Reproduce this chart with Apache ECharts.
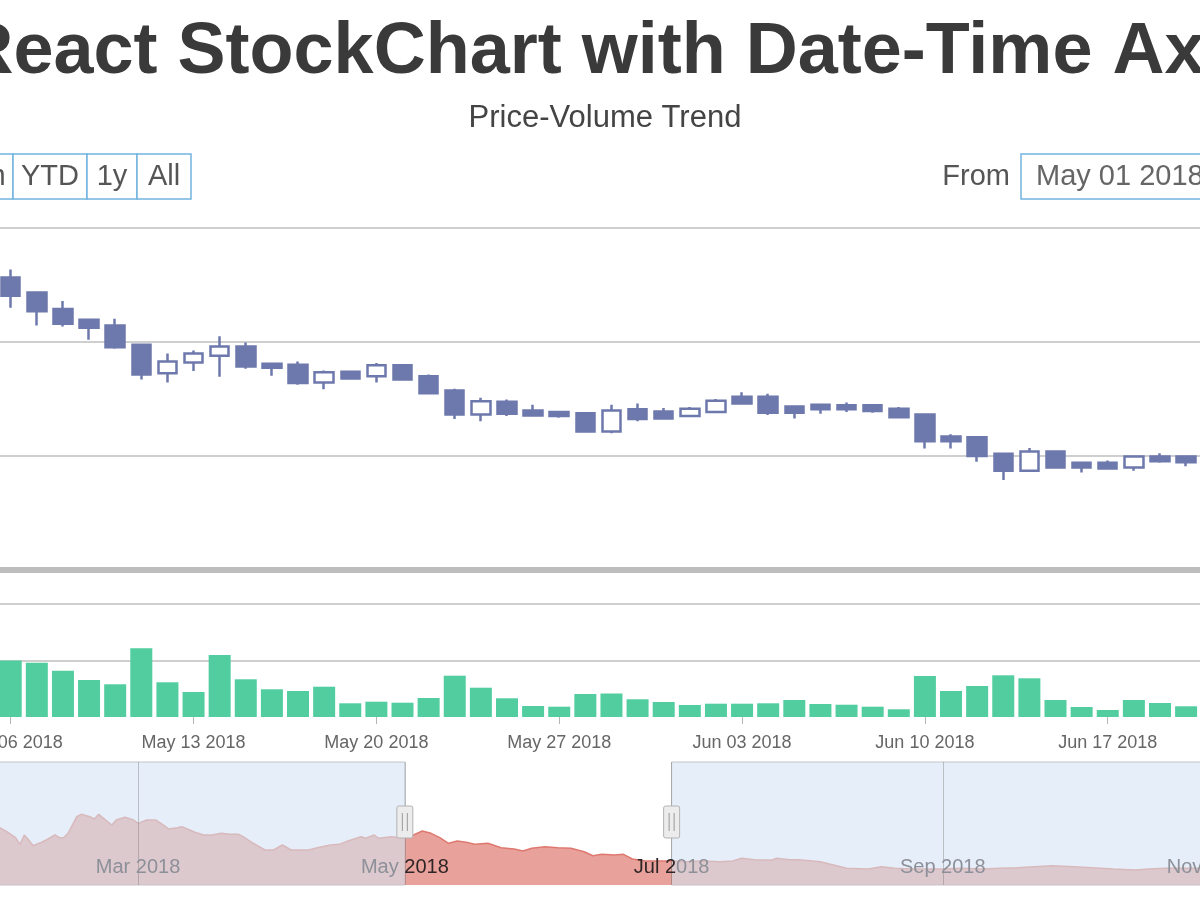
<!DOCTYPE html>
<html>
<head>
<meta charset="utf-8">
<title>React StockChart with Date-Time Axis</title>
<script src="https://cdn.jsdelivr.net/npm/echarts@6/dist/echarts.min.js"></script>
<style>
html, body { margin: 0; padding: 0; background: #fff; }
#main { width: 1200px; height: 900px; }
</style>
</head>
<body>
<div id="main"></div>
<script>
//daily candles shown in the main panel
var dates = ['2018-05-06', '2018-05-07', '2018-05-08', '2018-05-09', '2018-05-10', '2018-05-11', '2018-05-12',
    '2018-05-13', '2018-05-14', '2018-05-15', '2018-05-16', '2018-05-17', '2018-05-18', '2018-05-19',
    '2018-05-20', '2018-05-21', '2018-05-22', '2018-05-23', '2018-05-24', '2018-05-25', '2018-05-26',
    '2018-05-27', '2018-05-28', '2018-05-29', '2018-05-30', '2018-05-31', '2018-06-01', '2018-06-02',
    '2018-06-03', '2018-06-04', '2018-06-05', '2018-06-06', '2018-06-07', '2018-06-08', '2018-06-09',
    '2018-06-10', '2018-06-11', '2018-06-12', '2018-06-13', '2018-06-14', '2018-06-15', '2018-06-16',
    '2018-06-17', '2018-06-18', '2018-06-19', '2018-06-20'];
var opens = [913, 887, 858, 839, 829, 795, 745, 764, 776, 792, 762, 760, 729, 748, 740, 759, 740, 715, 673, 695, 680,
    677, 675, 643, 682, 678, 670, 677, 704, 704, 687, 690, 689, 689, 683, 673, 634, 633, 604, 574, 608, 588,
    588, 580, 599, 599];
var closes = [881, 854, 832, 825, 791, 743, 766, 780, 792, 757, 755, 728, 747, 736, 759, 734, 710, 673, 696, 674, 671,
    670, 643, 680, 665, 666, 683, 697, 692, 676, 676, 682, 682, 679, 668, 626, 626, 600, 574, 608, 580, 580,
    578, 599, 591, 589];
var lows = [860, 829, 827, 804, 788, 734, 729, 749, 739, 753, 741, 725, 717, 734, 729, 732, 708, 665, 661, 670, 669,
    667, 641, 640, 661, 665, 669, 675, 690, 672, 666, 674, 677, 676, 668, 613, 613, 590, 558, 572, 578, 571,
    577, 574, 588, 582];
var highs = [927, 889, 872, 841, 841, 797, 780, 785, 810, 799, 764, 766, 750, 750, 763, 761, 743, 718, 702, 699, 690,
    679, 677, 690, 692, 684, 686, 700, 712, 709, 689, 690, 694, 689, 686, 673, 638, 635, 604, 614, 608, 589,
    592, 601, 605, 599];
//volume (millions)
var volumes = [2000, 1922, 1639, 1310, 1158, 2432, 1228, 885, 2195, 1335, 981, 920, 1073, 485, 542, 506, 673, 1462,
    1037, 662, 389, 365, 814, 832, 627, 531, 425, 471, 471, 485, 602, 460, 435, 365, 273, 1451, 920, 1097,
    1476, 1370, 602, 354, 248, 602, 496, 379];
var weekTicks = ['2018-05-06', '2018-05-13', '2018-05-20', '2018-05-27', '2018-06-03', '2018-06-10', '2018-06-17'];

//navigator series (whole year)
var navDates = ['2018-01-27', '2018-01-28', '2018-01-30', '2018-02-01', '2018-02-02', '2018-02-03', '2018-02-04',
    '2018-02-05', '2018-02-07', '2018-02-08', '2018-02-10', '2018-02-11', '2018-02-12', '2018-02-13',
    '2018-02-15', '2018-02-16', '2018-02-18', '2018-02-19', '2018-02-20', '2018-02-22', '2018-02-23',
    '2018-02-24', '2018-02-26', '2018-02-28', '2018-03-01', '2018-03-03', '2018-03-05', '2018-03-07',
    '2018-03-08', '2018-03-10', '2018-03-11', '2018-03-14', '2018-03-16', '2018-03-18', '2018-03-20',
    '2018-03-22', '2018-03-24', '2018-03-25', '2018-03-27', '2018-03-30', '2018-04-01', '2018-04-03',
    '2018-04-05', '2018-04-07', '2018-04-09', '2018-04-11', '2018-04-14', '2018-04-16', '2018-04-18',
    '2018-04-21', '2018-04-22', '2018-04-24', '2018-04-25', '2018-04-28', '2018-04-30', '2018-05-01',
    '2018-05-03', '2018-05-05', '2018-05-07', '2018-05-09', '2018-05-11', '2018-05-13', '2018-05-15',
    '2018-05-17', '2018-05-20', '2018-05-23', '2018-05-26', '2018-05-28', '2018-05-30', '2018-06-02',
    '2018-06-05', '2018-06-08', '2018-06-11', '2018-06-13', '2018-06-15', '2018-06-18', '2018-06-20',
    '2018-06-22', '2018-06-25', '2018-06-28', '2018-07-01', '2018-07-04', '2018-07-08', '2018-07-12',
    '2018-07-15', '2018-07-17', '2018-07-20', '2018-07-24', '2018-07-25', '2018-07-28', '2018-07-30',
    '2018-08-04', '2018-08-07', '2018-08-10', '2018-08-15', '2018-08-18', '2018-08-21', '2018-08-25',
    '2018-08-28', '2018-09-01', '2018-09-05', '2018-09-10', '2018-09-14', '2018-09-18', '2018-09-22',
    '2018-09-26', '2018-10-01', '2018-10-05', '2018-10-10', '2018-10-15', '2018-10-18', '2018-10-22',
    '2018-10-26', '2018-10-30', '2018-11-02'];
var navValues = [952, 931, 870, 797, 716, 830, 769, 699, 741, 769, 830, 797, 797, 850, 1053, 1082, 1053, 1025, 1082,
    992, 952, 1013, 1046, 1013, 972, 1013, 1013, 943, 903, 919, 931, 863, 830, 830, 850, 838, 838, 809, 741,
    647, 647, 708, 647, 647, 647, 675, 708, 716, 757, 809, 790, 830, 790, 809, 797, 809, 830, 879, 850, 797,
    729, 757, 741, 716, 729, 675, 659, 635, 668, 687, 675, 668, 626, 577, 594, 586, 594, 537, 513, 513, 513,
    504, 513, 504, 513, 546, 529, 525, 546, 529, 529, 504, 464, 424, 415, 443, 424, 415, 415, 415, 424, 415,
    424, 431, 443, 455, 443, 431, 415, 403, 415, 424, 424, 424, 424];
var navTicks = ['2018-01-01', '2018-03-01', '2018-05-01', '2018-07-01', '2018-09-01', '2018-11-01'];

var rangeButtons = ['6m', 'YTD', '1y', 'All'];
var rangeFrom = '2018-05-01';
var rangeTo = '2018-07-01';
var monthNames = ['Jan', 'Feb', 'Mar', 'Apr', 'May', 'Jun', 'Jul', 'Aug', 'Sep', 'Oct', 'Nov', 'Dec'];

var FONT = 'Liberation Sans';
var CANDLE = '#6D78AD';
var VOLUME = '#51CDA0';
var NAV = '#DF7970';
var NAV_PALE = '#d8b9bc';

//'YYYY-MM-DD' -> local timestamp
function day(s) {
    var p = s.split('-');
    return new Date(+p[0], +p[1] - 1, +p[2]).getTime();
}
function pad(n) { return n < 10 ? '0' + n : '' + n; }
//"May 06 2018"
function fmtDay(v) {
    var d = new Date(v);
    return monthNames[d.getMonth()] + ' ' + pad(d.getDate()) + ' ' + d.getFullYear();
}

var viewStart = new Date(2018, 4, 5, 14, 10).getTime();
var viewEnd = new Date(2018, 5, 20, 12, 46).getTime();
var navMin = day('2018-01-01');
var navMax = day('2018-12-31');
var selStart = day(rangeFrom);
var selEnd = day(rangeTo);

//navigator labels: the part inside the selection is dark
function navLabel(v) {
    var d = new Date(v), m = monthNames[d.getMonth()], y = String(d.getFullYear());
    if (Math.abs(v - selStart) < 8.64e7) return '{g|' + m + ' }{d|' + y + '}';
    if (Math.abs(v - selEnd) < 8.64e7) return '{d|' + m + ' ' + y.charAt(0) + '}{g|' + y.slice(1) + '}';
    return '{g|' + m + ' ' + y + '}';
}

function getOption() {
    var candles = dates.map(function (d, i) { return [day(d), opens[i], closes[i], lows[i], highs[i]]; });
    var vols = dates.map(function (d, i) { return [day(d), volumes[i]]; });
    var nav = navDates.map(function (d, i) { return [day(d), navValues[i]]; });
    var weekVals = weekTicks.map(day);
    var navVals = navTicks.map(day);
    var gridLine = { color: '#cfcfcf', width: 2 };
    return {
        backgroundColor: '#fff',
        animation: false,
        textStyle: { fontFamily: FONT },
        title: [
            {
                text: 'React StockChart with Date-Time Axis', left: 613, top: 17, padding: 0,
                textAlign: 'center', textVerticalAlign: 'top',
                textStyle: { fontSize: 72, fontWeight: 'bold', color: '#3a3a3a', fontFamily: FONT }
            },
            {
                text: 'Price-Volume Trend', left: 605, top: 103, padding: 0,
                textAlign: 'center', textVerticalAlign: 'top',
                textStyle: { fontSize: 31, fontWeight: 'normal', color: '#444', fontFamily: FONT }
            }
        ],
        grid: [
            { left: 0, right: 0, top: 228, height: 342, outerBoundsMode: 'none', containLabel: false },
            { left: 0, right: 0, top: 604, height: 113, outerBoundsMode: 'none', containLabel: false },
            { left: -120, right: -272, top: 762, height: 123, outerBoundsMode: 'none', containLabel: false }
        ],
        xAxis: [
            {
                type: 'value', gridIndex: 0, min: viewStart, max: viewEnd,
                axisLine: { show: true, onZero: false, lineStyle: { color: '#bdbdbd', width: 6 } },
                axisTick: { show: false }, axisLabel: { show: false }, splitLine: { show: false }
            },
            {
                type: 'value', gridIndex: 1, min: viewStart, max: viewEnd,
                axisLine: { show: false, onZero: false },
                axisTick: { show: true, length: 7, lineStyle: { color: '#b5b5b5' }, customValues: weekVals },
                axisLabel: {
                    customValues: weekVals, formatter: fmtDay, color: '#666', fontSize: 18, margin: 17,
                    fontFamily: FONT, hideOverlap: false
                },
                splitLine: { show: false }
            },
            {
                type: 'value', gridIndex: 2, min: navMin, max: navMax, z: 10,
                axisLine: { show: false, onZero: false },
                axisTick: { show: false, customValues: navVals },
                axisLabel: {
                    customValues: navVals, inside: true, margin: 8, formatter: navLabel, hideOverlap: false,
                    rich: {
                        g: { color: '#8d9098', fontSize: 20, fontFamily: FONT },
                        d: { color: '#2e2626', fontSize: 20, fontFamily: FONT }
                    }
                },
                splitLine: { show: true, lineStyle: { color: 'rgba(120,120,120,0.4)', width: 1 } }
            }
        ],
        yAxis: [
            {
                type: 'value', gridIndex: 0, min: 400, max: 1000, interval: 200,
                axisLine: { show: false }, axisTick: { show: false }, axisLabel: { show: false },
                splitLine: { lineStyle: gridLine }
            },
            {
                type: 'value', gridIndex: 1, min: 0, max: 4000, interval: 2000,
                axisLine: { show: false }, axisTick: { show: false }, axisLabel: { show: false },
                splitLine: { showMinLine: false, lineStyle: gridLine }
            },
            { type: 'value', gridIndex: 2, min: 220, max: 1720, show: false }
        ],
        visualMap: [{
            type: 'piecewise', show: false, seriesIndex: 2, dimension: 0,
            pieces: [
                { lt: selStart, color: NAV_PALE },
                { gte: selStart, lte: selEnd, color: NAV },
                { gt: selEnd, color: NAV_PALE }
            ]
        }],
        series: [
            {
                name: 'Price', type: 'candlestick', xAxisIndex: 0, yAxisIndex: 0,
                data: candles, encode: { x: 0, y: [1, 2, 3, 4] }, barWidth: 19,
                itemStyle: { color: '#ffffff', color0: CANDLE, borderColor: CANDLE, borderColor0: CANDLE, borderWidth: 2.5 }
            },
            {
                name: 'Volume', type: 'bar', xAxisIndex: 1, yAxisIndex: 1,
                data: vols, barWidth: 22, itemStyle: { color: VOLUME }
            },
            {
                name: 'Navigator', type: 'line', xAxisIndex: 2, yAxisIndex: 2,
                data: nav, symbol: 'none', lineStyle: { width: 1.5 }, areaStyle: { opacity: 0.7 },
                markArea: {
                    silent: true,
                    label: { show: false },
                    itemStyle: { color: 'rgba(211,225,244,0.57)', borderColor: '#bfc3c9', borderWidth: 1 },
                    data: [
                        [{ xAxis: navMin }, { xAxis: selStart }],
                        [{ xAxis: selEnd }, { xAxis: navMax }]
                    ]
                }
            }
        ]
    };
}

//range buttons, "From" box and navigator handles
function getGraphics(handleXs) {
    var g = [];
    var edges = [-42, 13, 87, 137, 191];
    var btnStroke = '#72b4df';
    rangeButtons.forEach(function (label, i) {
        g.push({
            type: 'rect', shape: { x: edges[i], y: 154, width: edges[i + 1] - edges[i], height: 45 },
            style: { fill: '#fff', stroke: btnStroke, lineWidth: 1.5 }
        });
        g.push({
            type: 'text',
            style: {
                text: label, x: (edges[i] + edges[i + 1]) / 2, y: 177, fill: '#555',
                fontSize: 29, fontFamily: FONT, align: 'center', verticalAlign: 'middle'
            }
        });
    });
    g.push({
        type: 'text',
        style: { text: 'From', x: 1010, y: 177, fill: '#555', fontSize: 29, fontFamily: FONT, align: 'right', verticalAlign: 'middle' }
    });
    g.push({
        type: 'rect', shape: { x: 1021, y: 154, width: 260, height: 45 },
        style: { fill: '#fff', stroke: btnStroke, lineWidth: 1.5 }
    });
    g.push({
        type: 'text',
        style: { text: fmtDay(selStart), x: 1036, y: 177, fill: '#666', fontSize: 29, fontFamily: FONT, align: 'left', verticalAlign: 'middle' }
    });
    handleXs.forEach(function (x) {
        g.push({
            type: 'rect', z: 100, shape: { x: x - 8, y: 806, width: 16, height: 32, r: 2 },
            style: { fill: '#ececec', stroke: '#b3b3b3', lineWidth: 1 }
        });
        g.push({ type: 'line', z: 101, shape: { x1: x - 2.5, y1: 813, x2: x - 2.5, y2: 831 }, style: { stroke: '#9a9a9a', lineWidth: 1 } });
        g.push({ type: 'line', z: 101, shape: { x1: x + 2.5, y1: 813, x2: x + 2.5, y2: 831 }, style: { stroke: '#9a9a9a', lineWidth: 1 } });
    });
    return g;
}

window.onload = function () {
    var chart = echarts.init(document.getElementById('main'));
    chart.setOption(getOption());
    var hx = [
        chart.convertToPixel({ xAxisIndex: 2 }, selStart),
        chart.convertToPixel({ xAxisIndex: 2 }, selEnd)
    ];
    chart.setOption({ graphic: getGraphics(hx) });
};
</script>
</body>
</html>
